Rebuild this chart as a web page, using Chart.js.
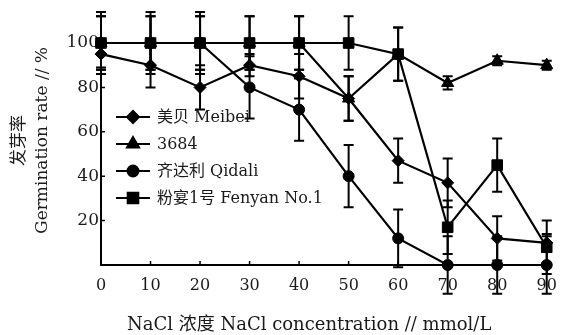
<!DOCTYPE html>
<html>
<head>
<meta charset="utf-8">
<script src="https://cdn.jsdelivr.net/npm/chart.js@4.4.1/dist/chart.umd.min.js"></script>
<style>
  html, body { margin: 0; padding: 0; background: #fff; }
  #wrap { width: 568px; height: 335px; }
</style>
</head>
<body>
<div id="wrap"><canvas id="chart" width="568" height="335"></canvas></div>
<script>
(() => {
  "use strict";

  // NaCl concentration (mmol/L)
  const concentrations = [0, 10, 20, 30, 40, 50, 60, 70, 80, 90];
  const xTicks = [0, 10, 20, 30, 40, 50, 60, 70, 80, 90];
  const yTicks = [20, 40, 60, 80, 100];

  const names = ["美贝 Meibei", "3684", "齐达利 Qidali", "粉宴1号 Fenyan No.1"];

  // germination rate (%) and error bars
  const meibei = [95, 90, 80, 90, 85, 75, 47, 37, 12, 10];
  const meibeiErr = [6, 10, 10, 5, 10, 10, 10, 11, 10, 4];
  const v3684 = [100, 100, 100, 100, 100, 75, 95, 82, 92, 90];
  const err3684 = [12, 12, 12, 12, 12, 10, 12, 3, 2, 2];
  const qidali = [100, 100, 100, 80, 70, 40, 12, 0, 0, 0];
  const qidaliErr = [12, 12, 12, 14, 14, 14, 13, 13, 13, 13];
  const fenyan = [100, 100, 100, 100, 100, 100, 95, 17, 45, 8];
  const fenyanErr = [14, 14, 14, 12, 12, 12, 12, 12, 12, 12];

  const INK = "#000";
  const TEXT = "#1a1a1a";
  const FONT = "'DejaVu Serif', 'Noto Sans CJK SC', serif";

  const pts = (vals) => vals.map((v, i) => ({ x: concentrations[i], y: v }));

  const series = (label, vals, errs, style, r) => ({
    label,
    data: pts(vals),
    errors: errs,
    borderColor: INK,
    backgroundColor: INK,
    borderWidth: 2.2,
    pointStyle: style,
    pointRadius: r,
    pointBorderWidth: 1,
    pointHoverRadius: r,
    tension: 0,
    clip: false
  });

  // vertical error bars with caps
  const errorBars = {
    id: "errorBars",
    beforeDatasetsDraw(chart) {
      const { ctx, scales: { x, y } } = chart;
      ctx.save();
      ctx.strokeStyle = INK;
      ctx.lineWidth = 2;
      chart.data.datasets.forEach(ds => {
        ds.data.forEach((p, i) => {
          const e = ds.errors[i];
          const px = x.getPixelForValue(p.x);
          const hi = y.getPixelForValue(p.y + e);
          const lo = y.getPixelForValue(p.y - e);
          ctx.beginPath();
          ctx.moveTo(px, hi); ctx.lineTo(px, lo);
          ctx.moveTo(px - 5, hi); ctx.lineTo(px + 5, hi);
          ctx.moveTo(px - 5, lo); ctx.lineTo(px + 5, lo);
          ctx.stroke();
        });
      });
      ctx.restore();
    }
  };

  // tick marks pointing into the plot
  const innerTicks = {
    id: "innerTicks",
    afterDraw(chart) {
      const { ctx, scales: { x, y }, chartArea: a } = chart;
      ctx.save();
      ctx.strokeStyle = INK;
      ctx.lineWidth = 1.5;
      ctx.beginPath();
      x.ticks.forEach(t => {
        if (t.value === 0) return;
        const px = x.getPixelForValue(t.value);
        ctx.moveTo(px, a.bottom); ctx.lineTo(px, a.bottom - 4);
      });
      y.ticks.forEach(t => {
        const py = y.getPixelForValue(t.value);
        ctx.moveTo(a.left, py); ctx.lineTo(a.left + 4, py);
      });
      ctx.stroke();
      ctx.restore();
    }
  };

  // legend inside the plot: line sample with marker, then the name
  const innerLegend = {
    id: "innerLegend",
    afterDraw(chart) {
      const { ctx, chartArea: a } = chart;
      ctx.save();
      ctx.font = "16px " + FONT;
      ctx.textBaseline = "middle";
      ctx.textAlign = "left";
      chart.data.datasets.forEach((ds, i) => {
        const x0 = a.left + 15;
        const yy = a.top + 74 + i * 27;
        ctx.strokeStyle = INK;
        ctx.fillStyle = INK;
        ctx.lineWidth = 2;
        ctx.beginPath();
        ctx.moveTo(x0, yy); ctx.lineTo(x0 + 34, yy);
        ctx.stroke();
        Chart.helpers.drawPoint(ctx, {
          pointStyle: ds.pointStyle, radius: ds.pointRadius, rotation: 0, borderWidth: 1
        }, x0 + 17, yy);
        ctx.fillStyle = TEXT;
        ctx.fillText(ds.label, x0 + 41, yy + 1);
      });
      ctx.restore();
    }
  };

  new Chart(document.getElementById("chart"), {
    type: "line",
    data: {
      datasets: [
        series(names[0], meibei, meibeiErr, "rectRot", 6),
        series(names[1], v3684, err3684, "triangle", 7),
        series(names[2], qidali, qidaliErr, "circle", 5.5),
        series(names[3], fenyan, fenyanErr, "rect", 7.5)
      ]
    },
    options: {
      responsive: false,
      animation: false,
      events: [],
      layout: { padding: { top: 43, right: 6, left: 0, bottom: 0 } },
      plugins: { legend: { display: false }, tooltip: { enabled: false } },
      scales: {
        x: {
          type: "linear",
          min: 0,
          max: 91,
          afterBuildTicks: (s) => { s.ticks = xTicks.map(v => ({ value: v })); },
          afterFit: (s) => { s.height = 70; },
          grid: { display: false, drawTicks: false },
          border: { display: true, color: INK, width: 2 },
          ticks: { color: TEXT, padding: 11, font: { family: FONT, size: 16 } },
          title: {
            display: true,
            text: "NaCl 浓度 NaCl concentration // mmol/L      ",
            color: TEXT,
            padding: 0,
            font: { family: FONT, size: 18, lineHeight: 1.1 }
          }
        },
        y: {
          min: 0,
          max: 100,
          afterBuildTicks: (s) => { s.ticks = yTicks.map(v => ({ value: v })); },
          afterFit: (s) => { s.width = 101; },
          grid: { display: false, drawTicks: false },
          border: { display: true, color: INK, width: 2 },
          ticks: { color: TEXT, padding: 2, font: { family: FONT, size: 17 } },
          title: {
            display: true,
            text: ["     发芽率", "     Germination rate // %"],
            color: TEXT,
            padding: { top: 9, bottom: 0 },
            font: { family: FONT, size: 17, lineHeight: 1.3 }
          }
        }
      }
    },
    plugins: [errorBars, innerTicks, innerLegend]
  });
})();
</script>
</body>
</html>
